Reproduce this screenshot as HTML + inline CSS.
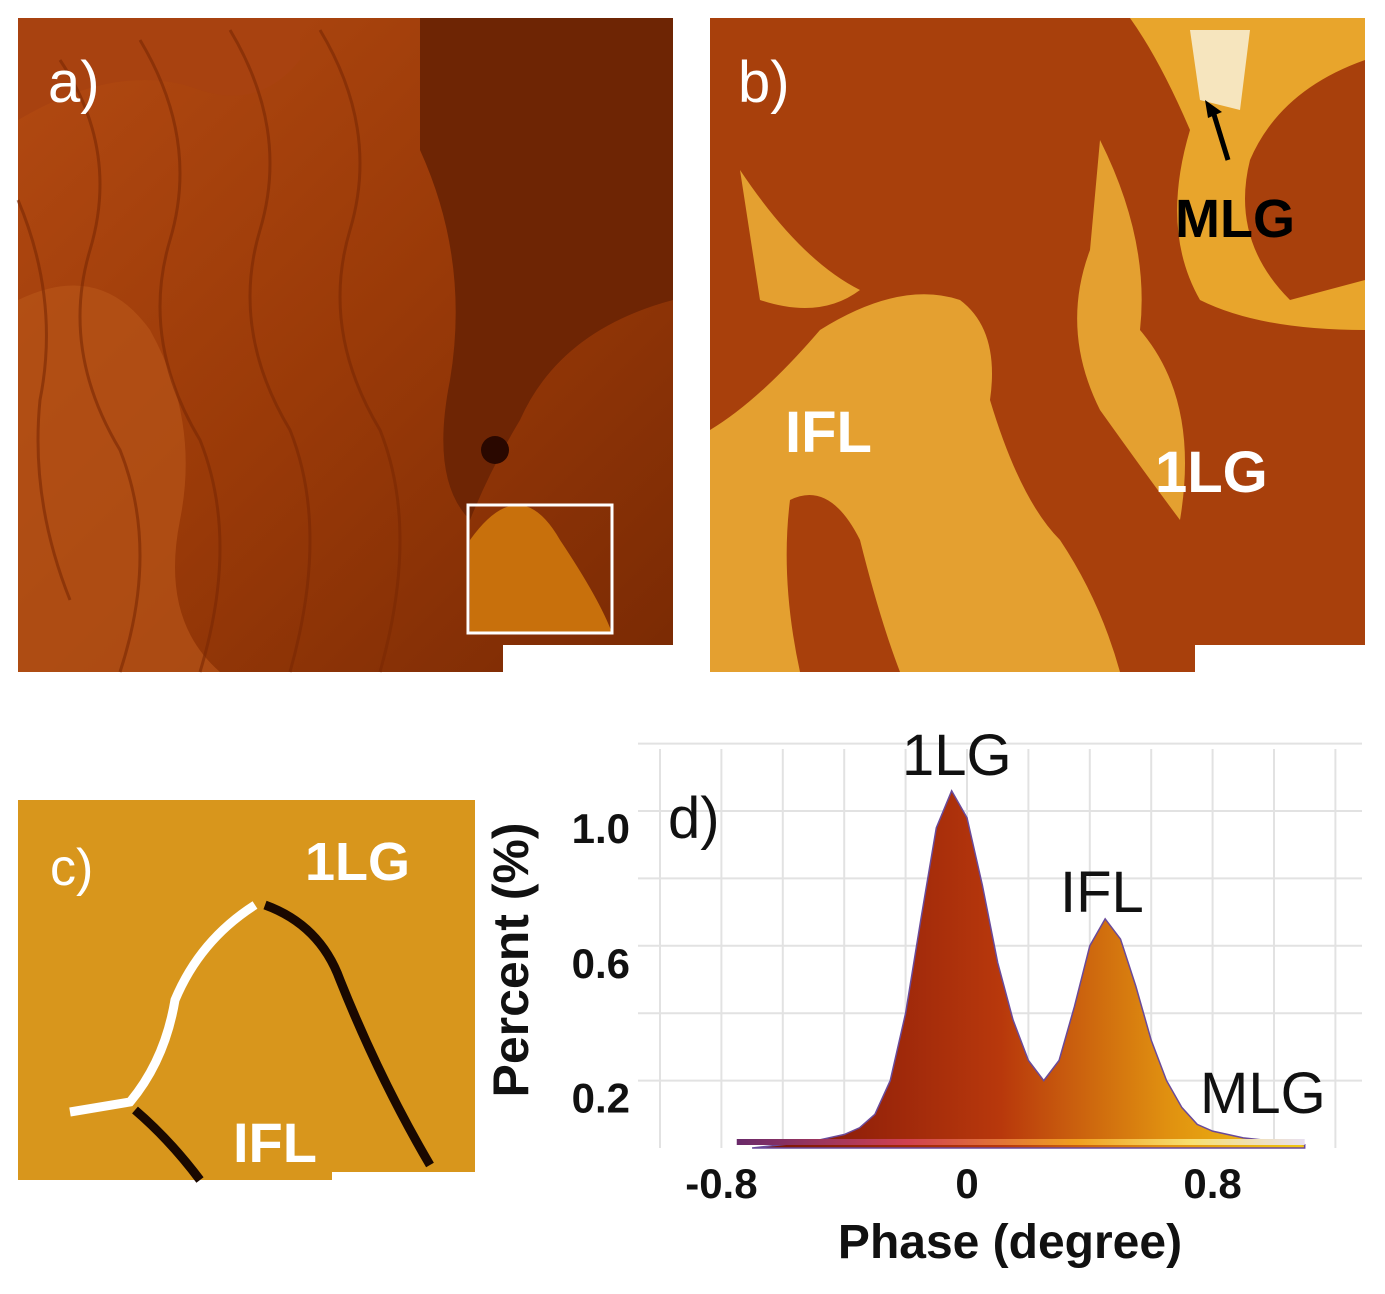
<!DOCTYPE html>
<html><head><meta charset="utf-8"><style>
body{margin:0;background:#fff;width:1385px;height:1294px;overflow:hidden;font-family:"Liberation Sans",sans-serif}
svg{position:absolute;left:0;top:0}
</style></head><body>
<svg width="1385" height="1294" viewBox="0 0 1385 1294">
<defs>
<linearGradient id="ga" x1="0" y1="0" x2="1" y2="1"><stop offset="0" stop-color="#b34a12"/><stop offset="0.5" stop-color="#9a3a08"/><stop offset="1" stop-color="#7a2a04"/></linearGradient>
<linearGradient id="hist" x1="0" y1="0" x2="1" y2="0"><stop offset="0" stop-color="#7a1208"/><stop offset="0.45" stop-color="#b8380c"/><stop offset="0.75" stop-color="#e09010"/><stop offset="1" stop-color="#f2c814"/></linearGradient>
<linearGradient id="base" x1="0" y1="0" x2="1" y2="0"><stop offset="0" stop-color="#6a2a6a"/><stop offset="0.3" stop-color="#d04050"/><stop offset="0.6" stop-color="#f0a020"/><stop offset="0.8" stop-color="#f8e070"/><stop offset="1" stop-color="#e8e0f0"/></linearGradient>
</defs>
<!-- panel a -->
<g>
<rect x="18" y="18" width="655" height="654" fill="url(#ga)"/>
<path d="M18 120 Q120 60 200 90 Q260 110 300 60 L300 18 L18 18Z" fill="#a84210"/>
<path d="M420 18 L673 18 L673 300 Q560 330 520 420 Q490 470 470 520 Q430 480 450 380 Q470 260 420 150Z" fill="#6e2504"/>
<path d="M18 300 Q100 260 150 330 Q200 420 180 520 Q160 620 220 672 L18 672Z" fill="#b65418" opacity="0.7"/>
<path d="M470 540 Q520 470 560 540 Q600 600 612 633 L470 633Z" fill="#c8700c"/>
<g fill="none" stroke="#7a2804" stroke-width="3" opacity="0.6">
<path d="M60 60 Q120 150 90 250 Q60 350 120 450 Q160 550 120 672"/>
<path d="M140 40 Q200 140 170 240 Q140 340 200 440 Q240 540 200 672"/>
<path d="M230 30 Q290 130 260 230 Q230 330 290 430 Q330 530 290 672"/>
<path d="M320 30 Q380 130 350 230 Q320 330 380 430 Q420 530 380 672"/>
<path d="M18 200 Q60 300 40 400 Q30 500 70 600"/>
</g>
<circle cx="495" cy="450" r="14" fill="#2a0800"/>
<rect x="468" y="505" width="144" height="128" fill="none" stroke="#fff" stroke-width="3"/>
<rect x="503" y="645" width="170" height="27" fill="#fff"/>
<text x="48" y="102" font-size="58" fill="#fff">a)</text>
</g>
<!-- panel b -->
<g>
<rect x="710" y="18" width="655" height="654" fill="#a8400c"/>
<path d="M1130 18 L1365 18 L1365 60 Q1280 90 1250 160 Q1230 240 1290 300 L1365 280 L1365 330 Q1260 330 1200 300 Q1160 230 1190 130 Q1160 60 1130 18Z" fill="#e8a52c"/>
<path d="M710 430 Q760 400 820 330 Q900 280 960 300 Q1000 330 990 400 Q1020 500 1060 540 Q1100 600 1120 672 L710 672Z" fill="#e4a030"/>
<path d="M1100 140 Q1150 240 1140 330 Q1200 400 1180 520 Q1150 480 1100 410 Q1060 330 1090 250Z" fill="#e4a030"/>
<path d="M740 170 Q800 260 860 290 Q820 320 760 300Z" fill="#e4a030"/>
<path d="M790 500 Q830 480 860 540 Q880 620 900 672 L800 672 Q780 580 790 500Z" fill="#a8400c"/>
<path d="M1190 30 L1250 30 L1240 110 L1200 100Z" fill="#f8f0d8" opacity="0.85"/>
<rect x="1195" y="645" width="170" height="27" fill="#fff"/>
<text x="738" y="102" font-size="58" fill="#fff">b)</text>
<line x1="1228" y1="160" x2="1212" y2="108" stroke="#000" stroke-width="5"/>
<path d="M1205 100 L1222 112 L1208 118Z" fill="#000"/>
<text x="1175" y="237" font-size="54" font-weight="bold" fill="#000">MLG</text>
<text x="785" y="452" font-size="58" font-weight="bold" fill="#fff">IFL</text>
<text x="1155" y="492" font-size="58" font-weight="bold" fill="#fff">1LG</text>
</g>
<!-- panel c -->
<g>
<rect x="18" y="800" width="457" height="380" fill="#d8961c"/>
<path d="M70 1112 L130 1102 Q165 1060 175 1000 Q200 940 255 905" fill="none" stroke="#fff" stroke-width="9"/>
<path d="M265 905 Q320 925 340 980 Q380 1080 430 1165" fill="none" stroke="#1a0800" stroke-width="9"/>
<path d="M135 1110 Q170 1140 200 1180" fill="none" stroke="#1a0800" stroke-width="9"/>
<rect x="332" y="1172" width="143" height="8" fill="#fff"/>
<text x="50" y="885" font-size="52" fill="#fff">c)</text>
<text x="305" y="880" font-size="54" font-weight="bold" fill="#fff">1LG</text>
<text x="233" y="1162" font-size="56" font-weight="bold" fill="#fff">IFL</text>
</g>
<!-- panel d -->
<g id="chart"></g>
</svg>
<script>
const phaseBins=[-0.7,-0.6,-0.5,-0.4,-0.35,-0.3,-0.25,-0.2,-0.15,-0.1,-0.05,0,0.05,0.1,0.15,0.2,0.25,0.3,0.35,0.4,0.45,0.5,0.55,0.6,0.65,0.7,0.75,0.8,0.9,1.0,1.1];
const percentValues=[0,0.01,0.02,0.04,0.06,0.1,0.2,0.4,0.68,0.95,1.06,0.98,0.78,0.55,0.38,0.26,0.2,0.26,0.42,0.6,0.68,0.62,0.48,0.32,0.2,0.12,0.07,0.05,0.03,0.02,0.01];
const xTicks=[-0.8,0,0.8];
const xTickLabels=["-0.8","0","0.8"];
const yTicks=[0.2,0.6,1.0];
const yTickLabels=["0.2","0.6","1.0"];
const gridX=[-1.0,-0.8,-0.6,-0.4,-0.2,0,0.2,0.4,0.6,0.8,1.0,1.2];
const gridY=[0.2,0.4,0.6,0.8,1.0,1.2];
const NS="http://www.w3.org/2000/svg";
const X=v=>967+v*307, Y=v=>1148-v*337;
const g=document.getElementById('chart');
function mk(t,a,p){const e=document.createElementNS(NS,t);for(const k in a)e.setAttribute(k,a[k]);(p||g).appendChild(e);return e;}
mk('rect',{x:638,y:749,width:724,height:399,fill:'#fff'});
gridX.forEach(v=>{const l=mk('line',{x1:X(v),x2:X(v),y1:749,y2:1148,stroke:'#e2e2e2','stroke-width':2});

});
gridY.forEach(v=>{const l=mk('line',{x1:638,x2:1362,y1:Y(v),y2:Y(v),stroke:'#e2e2e2','stroke-width':2});

});
let d='M'+X(phaseBins[0])+' '+Y(0);
phaseBins.forEach((p,i)=>{d+=' L'+X(p)+' '+Y(percentValues[i]);});
d+=' L'+X(phaseBins[phaseBins.length-1])+' '+Y(0)+'Z';
const area=mk('path',{d:d,fill:'url(#hist)',stroke:'#6a4a9a','stroke-width':1.5});


const bl=mk('rect',{x:X(-0.75),y:1139,width:X(1.1)-X(-0.75),height:6,fill:'url(#base)'});


xTicks.forEach((v,i)=>{const t=mk('text',{x:X(v),y:1198,'text-anchor':'middle','font-size':42,'font-weight':'bold',fill:'#111'});t.textContent=xTickLabels[i];

});
yTicks.forEach((v,i)=>{const t=mk('text',{x:630,y:Y(v)+32,'text-anchor':'end','font-size':42,'font-weight':'bold',fill:'#111'});t.textContent=yTickLabels[i];

});
const xt=mk('text',{x:1010,y:1258,'text-anchor':'middle','font-size':48,'font-weight':'bold',fill:'#111'});xt.textContent='Phase (degree)';


const yt=mk('text',{x:0,y:0,'text-anchor':'middle','font-size':50,'font-weight':'bold',fill:'#111',transform:'translate(528,960) rotate(-90)'});yt.textContent='Percent (%)';


[['d)',668,838,'panel-label-d'],['1LG',902,775,'peak-label-1lg'],['IFL',1060,912,'peak-label-ifl'],['MLG',1200,1113,'peak-label-mlg']].forEach(a=>{const t=mk('text',{x:a[1],y:a[2],'font-size':58,fill:'#111'});t.textContent=a[0];

});
</script>
</body></html>
